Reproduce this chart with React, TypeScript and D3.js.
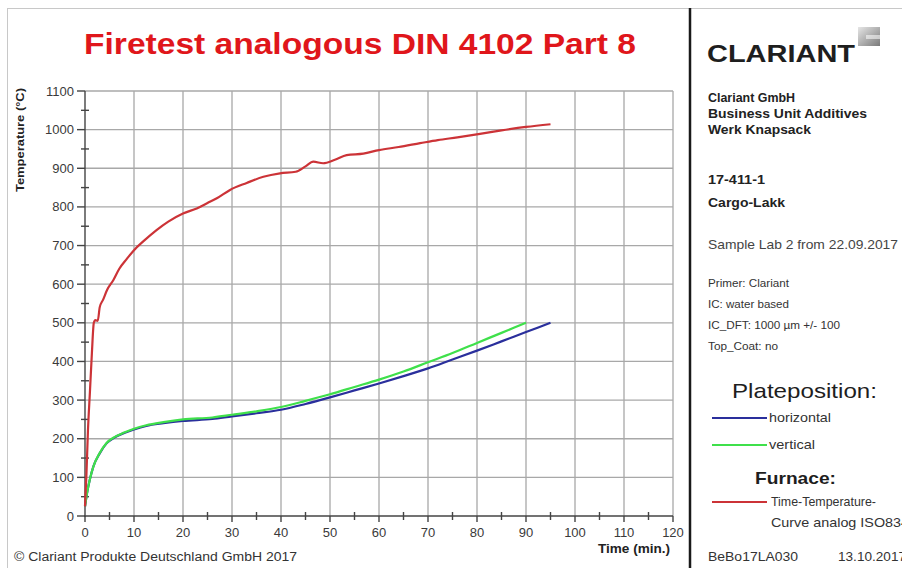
import { useEffect, useRef } from 'react';
import * as d3 from 'd3';

// Furnace (red) time-temperature curve
const furnaceTime = [0, 0.3, 0.6, 1, 1.4, 1.8, 2.1, 2.6, 3, 3.7, 4.5, 5.8, 7, 8.5, 10, 12, 14.6, 17, 20, 22.8, 25, 27, 29.6, 33, 36.4, 39.8, 43, 45, 46.6, 48.6, 51, 53.4, 56.8, 60, 64, 68.4, 72, 76, 80.6, 85, 90, 95];
const furnaceTemp = [25, 110, 220, 320, 420, 500, 507, 505, 540, 560, 585, 611, 640, 665, 688, 712, 740, 762, 783, 796, 810, 823, 844, 862, 878, 887, 891, 905, 917, 913, 922, 934, 938, 947, 955, 965, 973, 980, 989, 998, 1007, 1014];

// Plate horizontal (blue)
const horizTime = [0, 0.5, 1, 1.7, 3, 4.4, 6, 8, 10, 12.5, 16, 20, 26, 30, 35, 40, 45, 50, 55, 60, 65, 70, 75, 80, 85, 90, 95];
const horizTemp = [25, 65, 95, 128, 162, 188, 203, 215, 224, 233, 240, 246, 251, 258, 266, 275, 290, 307, 325, 343, 362, 382, 405, 428, 452, 476, 500];

// Plate vertical (green)
const vertTime = [0, 0.5, 1, 1.7, 3, 4.4, 6, 8, 10, 12.5, 16, 20, 26, 30, 35, 40, 45, 50, 55, 60, 65, 70, 75, 80, 85, 90];
const vertTemp = [25, 65, 95, 128, 163, 189, 204, 216, 226, 235, 243, 250, 255, 262, 271, 282, 298, 315, 334, 353, 374, 398, 422, 448, 474, 500];

const xTicks = d3.range(0, 121, 10);
const yTicks = d3.range(0, 1101, 100);

const infoLines = ["Primer: Clariant", "IC: water based", "IC_DFT: 1000 µm +/- 100", "Top_Coat: no"];
const infoWidths = [81, 81, 132, 70];

const FONT = "'Liberation Sans', Arial, sans-serif";

function Chart() {
    const ref = useRef(null);

    const draw = () => {
        const root = d3.select(ref.current);
        root.selectAll("*").remove();

        const svg = root.append("svg")
            .attr("width", 902)
            .attr("height", 568)
            .style("display", "block")
            .style("font-family", FONT);

        svg.append("rect").attr("width", 902).attr("height", 568).attr("fill", "#fff");

        // text helper, the source picture is stretched a bit horizontally
        const txt = (g, x, y, s, size, w, color, len, weight) => {
            const t = g.append("text").attr("x", x).attr("y", y)
                .attr("font-size", size).attr("fill", color).text(s);
            if (weight) t.attr("font-weight", weight);
            if (len) t.attr("textLength", len).attr("lengthAdjust", "spacingAndGlyphs");
            return t;
        };

        // outer frame
        svg.append("line").attr("x1", 8).attr("x2", 902).attr("y1", 8.5).attr("y2", 8.5)
            .attr("stroke", "#c8c8c8").attr("stroke-width", 1);
        svg.append("line").attr("x1", 7.5).attr("x2", 7.5).attr("y1", 8).attr("y2", 568)
            .attr("stroke", "#c8c8c8").attr("stroke-width", 1);
        // divider
        svg.append("line").attr("x1", 690).attr("x2", 690).attr("y1", 8).attr("y2", 568)
            .attr("stroke", "#1a1a1a").attr("stroke-width", 2.5);

        const x = d3.scaleLinear().domain([0, 120]).range([85, 673]);
        const y = d3.scaleLinear().domain([0, 1100]).range([516, 91]);

        // title
        txt(svg, 84, 54, "Firetest analogous DIN 4102 Part 8", 29, 0, "#e0161b", 552, "bold");

        // grid
        const grid = svg.append("g").attr("stroke", "#a8a8a8").attr("stroke-width", 1.3);
        xTicks.filter(d => d > 0).forEach(d => {
            grid.append("line").attr("x1", x(d)).attr("x2", x(d)).attr("y1", y(1100)).attr("y2", y(0));
        });
        yTicks.filter(d => d > 0).forEach(d => {
            grid.append("line").attr("x1", x(0)).attr("x2", x(120)).attr("y1", y(d)).attr("y2", y(d));
        });

        // axes
        const ax = svg.append("g").attr("stroke", "#444").attr("stroke-width", 1.4);
        ax.append("line").attr("x1", x(0)).attr("x2", x(0)).attr("y1", y(1100)).attr("y2", y(0) + 1);
        ax.append("line").attr("x1", x(0) - 1).attr("x2", x(120)).attr("y1", y(0)).attr("y2", y(0));
        d3.range(0, 1101, 50).forEach(d => {
            const major = d % 100 === 0;
            ax.append("line")
                .attr("x1", major ? x(0) - 8 : x(0) - 4).attr("x2", major ? x(0) : x(0) + 4)
                .attr("y1", y(d)).attr("y2", y(d));
        });
        d3.range(0, 121, 5).forEach(d => {
            const major = d % 10 === 0;
            ax.append("line")
                .attr("x1", x(d)).attr("x2", x(d))
                .attr("y1", major ? y(0) : y(0) - 4).attr("y2", major ? y(0) + 6 : y(0) + 4);
        });

        svg.append("g").selectAll("text").data(yTicks).enter().append("text")
            .attr("x", x(0) - 11).attr("y", d => y(d) + 4.5)
            .attr("text-anchor", "end").attr("font-size", 13).attr("fill", "#3a3a3a")
            .text(d => d);
        svg.append("g").selectAll("text").data(xTicks).enter().append("text")
            .attr("x", d => x(d)).attr("y", y(0) + 21)
            .attr("text-anchor", "middle").attr("font-size", 13).attr("fill", "#3a3a3a")
            .text(d => d);

        svg.append("text")
            .attr("transform", "translate(24,192) rotate(-90)")
            .attr("font-size", 11.5).attr("font-weight", "bold")
            .attr("textLength", 104).attr("lengthAdjust", "spacingAndGlyphs")
            .attr("fill", "#222")
            .text("Temperature (°C)");
        txt(svg, 598, 553, "Time (min.)", 12.5, 0, "#222", 72, "bold");
        txt(svg, 14, 561, "© Clariant Produkte Deutschland GmbH 2017", 12.5, 0, "#333", 283);

        // curves
        const line = d3.line().x(d => x(d[0])).y(d => y(d[1])).curve(d3.curveMonotoneX);
        const series = [
            { t: horizTime, v: horizTemp, color: "#2a2f9c" },
            { t: vertTime, v: vertTemp, color: "#3fe04b" },
            { t: furnaceTime, v: furnaceTemp, color: "#cc3337" }
        ];
        series.forEach(s => {
            svg.append("path")
                .datum(s.t.map((t, i) => [t, s.v[i]]))
                .attr("d", line)
                .attr("fill", "none")
                .attr("stroke", s.color)
                .attr("stroke-width", 2.2)
                .attr("stroke-linejoin", "round");
        });

        // right panel
        const p = svg.append("g");
        txt(p, 707, 62, "CLARIANT", 24, 0, "#1e1e1e", 148, "bold");
        const grad = svg.append("defs").append("linearGradient").attr("id", "logo")
            .attr("x1", 0).attr("y1", 0).attr("x2", 1).attr("y2", 1);
        grad.append("stop").attr("offset", "0%").attr("stop-color", "#e6e6e6");
        grad.append("stop").attr("offset", "100%").attr("stop-color", "#7a7a7a");
        p.append("rect").attr("x", 858).attr("y", 27).attr("width", 22).attr("height", 19)
            .attr("fill", "url(#logo)");
        p.append("rect").attr("x", 866).attr("y", 35).attr("width", 14).attr("height", 4)
            .attr("fill", "#ffffff").attr("opacity", 0.55);

        const bold = [["Clariant GmbH", 102, 87], ["Business Unit Additives", 118, 159], ["Werk Knapsack", 134, 103], ["17-411-1", 184, 57], ["Cargo-Lakk", 207, 77]];
        bold.forEach(([s, yy, w]) => txt(p, 708, yy, s, 12.5, 0, "#222", w, "bold"));
        txt(p, 708, 249, "Sample Lab 2 from 22.09.2017", 13, 0, "#444", 190);
        infoLines.forEach((s, i) => txt(p, 708, 287 + i * 21, s, 10, 0, "#333", infoWidths[i]));

        txt(p, 732, 398, "Plateposition:", 21, 0, "#1e1e1e", 145);
        const legend = [["horizontal", "#2a2f9c", 418, 62], ["vertical", "#3fe04b", 445, 46]];
        legend.forEach(([s, c, yy, w]) => {
            p.append("line").attr("x1", 712).attr("x2", 767).attr("y1", yy).attr("y2", yy)
                .attr("stroke", c).attr("stroke-width", 2);
            txt(p, 769, yy + 4, s, 13, 0, "#333", w);
        });
        txt(p, 755, 484, "Furnace:", 17, 0, "#1e1e1e", 81, "bold");
        p.append("line").attr("x1", 712).attr("x2", 767).attr("y1", 502).attr("y2", 502)
            .attr("stroke", "#cc3337").attr("stroke-width", 2);
        txt(p, 771, 506, "Time-Temperature-", 13, 0, "#333", 105);
        txt(p, 771, 527, "Curve analog ISO834", 13, 0, "#333", 138);
        txt(p, 708, 561, "BeBo17LA030", 13, 0, "#333", 90);
        txt(p, 838, 561, "13.10.2017", 13, 0, "#333", 68);
    };

    useEffect(() => draw(), []);

    return <div ref={ref} style={{ position: "absolute", left: 0, top: 0 }}></div>;
}

export default function App() {
    return <Chart />;
}
